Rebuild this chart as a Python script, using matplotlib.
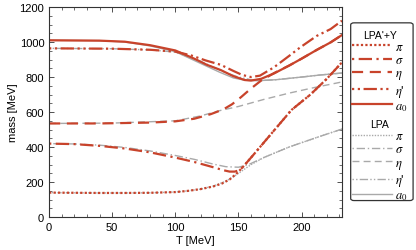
import matplotlib
matplotlib.use("Agg")
import matplotlib.pyplot as plt
from matplotlib.patches import FancyBboxPatch
from matplotlib.ticker import MultipleLocator

plt.rcParams['font.family'] = ['Liberation Sans', 'DejaVu Sans']
plt.rcParams['mathtext.fontset'] = 'stix'

# ---------------- data (T in MeV, mass in MeV) ----------------
# LPA'+Y
T_pi_y = [0, 20, 40, 60, 80, 100, 110, 120, 130, 137, 143, 148, 153, 160, 170, 180, 192, 207, 220, 232]
m_pi_y = [140, 139, 138, 138, 139, 143, 150, 160, 175, 192, 215, 245, 282, 340, 425, 510, 612, 700, 790, 884]
T_sig_y = [0, 20, 40, 60, 80, 100, 115, 130, 138, 143, 147, 150, 153, 160, 170, 180, 192, 207, 220, 232]
m_sig_y = [420, 417, 407, 392, 370, 340, 315, 285, 268, 260, 260, 266, 282, 340, 425, 510, 612, 700, 790, 884]
T_eta_y = [0, 40, 80, 100, 115, 128, 138, 145, 152, 160, 168, 178, 190, 200, 212, 223, 232]
m_eta_y = [535, 535, 540, 547, 562, 588, 615, 645, 685, 735, 780, 822, 865, 905, 955, 998, 1040]
T_etap_y = [0, 50, 80, 100, 112, 124, 136, 146, 153, 160, 167, 178, 190, 199, 212, 223, 232]
m_etap_y = [964, 962, 956, 945, 925, 895, 870, 835, 812, 800, 808, 855, 920, 970, 1035, 1074, 1122]
T_a0_y = [0, 40, 60, 80, 100, 115, 125, 136, 146, 155, 160, 168, 178, 190, 200, 212, 223, 232]
m_a0_y = [1010, 1008, 1002, 982, 952, 905, 870, 840, 805, 783, 780, 790, 820, 865, 905, 955, 998, 1040]

# LPA
T_pi_l = [0, 20, 40, 60, 80, 100, 110, 120, 130, 140, 148, 155, 160, 170, 190, 210, 232]
m_pi_l = [140, 139, 138, 138, 139, 143, 150, 160, 177, 205, 240, 275, 300, 340, 400, 450, 503]
T_sig_l = [0, 20, 40, 60, 80, 100, 115, 130, 140, 150, 158, 170, 190, 210, 232]
m_sig_l = [420, 418, 411, 398, 378, 352, 330, 303, 288, 285, 300, 340, 400, 450, 503]
T_eta_l = [0, 50, 100, 120, 135, 150, 170, 190, 210, 232]
m_eta_l = [535, 537, 550, 578, 608, 632, 672, 708, 740, 772]
T_etap_l = [0, 50, 80, 100, 120, 140, 150, 160, 170, 180, 200, 215, 232]
m_etap_l = [964, 962, 955, 943, 890, 825, 800, 785, 781, 785, 800, 812, 823]
T_a0_l = [0, 40, 60, 80, 100, 120, 135, 146, 155, 165, 180, 200, 215, 232]
m_a0_l = [1010, 1008, 1000, 978, 945, 878, 828, 795, 782, 779, 785, 800, 812, 823]

labels = [r'$\pi$', r'$\sigma$', r'$\eta$', r"$\eta$'", r'$a_0$']
x_ticks = [0, 50, 100, 150, 200]
y_ticks = [0, 200, 400, 600, 800, 1000, 1200]

# ---------------- style ----------------
RED = '#c8432b'
GRAY = '#a9a9a9'
styles = [(0, (1, 1)), (0, (1, 2, 6, 2)), (0, (5, 3)), (0, (1, 1.6, 1, 1.6, 6, 1.6)), '-']

fig = plt.figure(figsize=(4.16, 2.51), dpi=100)
ax = fig.add_axes([0.118, 0.131, 0.704, 0.837])

lpa = [(T_pi_l, m_pi_l), (T_sig_l, m_sig_l), (T_eta_l, m_eta_l), (T_etap_l, m_etap_l), (T_a0_l, m_a0_l)]
lpy = [(T_pi_y, m_pi_y), (T_sig_y, m_sig_y), (T_eta_y, m_eta_y), (T_etap_y, m_etap_y), (T_a0_y, m_a0_y)]

h_l = []
for (t, m), ls, lab in zip(lpa, styles, labels):
    h, = ax.plot(t, m, color=GRAY, lw=1.0, ls=ls, label=lab)
    h_l.append(h)
h_y = []
for (t, m), ls, lab in zip(lpy, styles, labels):
    h, = ax.plot(t, m, color=RED, lw=1.6, ls=ls, label=lab)
    h_y.append(h)

ax.set_xlim(0, 232)
ax.set_ylim(0, 1200)
ax.set_xticks(x_ticks)
ax.set_yticks(y_ticks)
ax.xaxis.set_minor_locator(MultipleLocator(10))
ax.yaxis.set_minor_locator(MultipleLocator(50))
ax.tick_params(which='both', direction='in', top=True, right=True, colors='#333333',
               labelcolor='black', labelsize=8)
ax.tick_params(which='major', length=3.5, width=0.6)
ax.tick_params(which='minor', length=2, width=0.5)
for s in ax.spines.values():
    s.set_color('#333333')
    s.set_linewidth(0.8)
ax.set_xlabel('T [MeV]', fontsize=8, labelpad=2)
ax.set_ylabel('mass [MeV]', fontsize=8, labelpad=1)

# ---------------- legend ----------------
frame = FancyBboxPatch((0.843, 0.197), 0.150, 0.708, transform=fig.transFigure,
                       boxstyle='round,pad=0,rounding_size=0.008', fc='white',
                       ec='#333333', lw=0.9)
fig.patches.append(frame)

common = dict(frameon=False, fontsize=9, title_fontsize=7.5, handlelength=3.2,
              handletextpad=0.25, labelspacing=0.1, borderpad=0, borderaxespad=0,
              bbox_transform=fig.transFigure, loc='upper left')
leg1 = fig.legend(handles=h_y, title="LPA'+Y", bbox_to_anchor=(0.846, 0.878), **common)
leg2 = fig.legend(handles=h_l, title='LPA', bbox_to_anchor=(0.846, 0.522), **common)

fig.savefig('out.png', dpi=100)
